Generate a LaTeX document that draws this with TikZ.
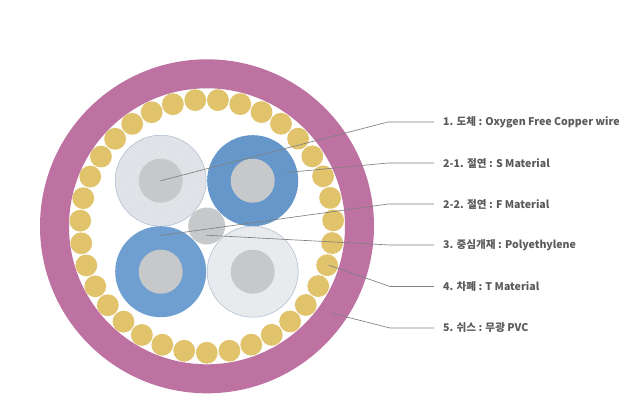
\documentclass[tikz,border=0pt]{standalone}
\usepackage{fontspec}
\usetikzlibrary{calc}
\setmainfont{Noto Sans CJK KR}
\definecolor{sheath}{HTML}{BD72A2}
\definecolor{yarn}{HTML}{E0C36A}
\definecolor{blueins}{HTML}{6F9FD1}
\definecolor{bluehatch}{HTML}{5B8DC3}
\definecolor{core}{HTML}{C6C8CA}
\definecolor{pale}{HTML}{E9EAEE}
\definecolor{palehatch}{HTML}{D6D9DE}
\definecolor{edgeline}{HTML}{A9BBD0}
\definecolor{leader}{HTML}{808080}
\definecolor{labeltext}{HTML}{5A5A5A}
\tikzset{
  leaderline/.style={draw=leader,line width=0.65pt},
  lbl/.style={anchor=west,inner sep=0pt,text=labeltext,font=\bfseries\fontsize{10.6}{12}\selectfont},
  yarnball/.style={fill=yarn,draw=none},
  corefill/.style={fill=core,draw=none},
}
\begin{document}
\begin{tikzpicture}[x=1pt,y=-1pt]
\useasboundingbox (0,0) rectangle (640,400);
\fill[white] (0,0) rectangle (640,400);
\coordinate (C) at (207,226.3);
% sheath
\fill[sheath,even odd rule] (C) circle[radius=167] (C) circle[radius=138];
% yarn
\foreach \k in {0,...,34}{
  \fill[yarnball] ({206.7+126.6*cos(95.2+\k*360/35)},{226.2-126.6*sin(95.2+\k*360/35)}) circle[radius=10.9];
}
% insulated cores
\coordinate (TL) at (160.7,180.7);
\coordinate (TR) at (252.7,180.7);
\coordinate (BL) at (160.7,271.7);
\coordinate (BR) at (252.7,271.7);
\coordinate (MID) at (206.7,226);
\begin{scope}
  \fill[pale] (TL) circle[radius=45.5];
  \clip (TL) circle[radius=45.5];
  \foreach \d in {-100,-97,...,100}{
    \draw[palehatch,line width=0.7pt] ($(TL)+(\d-60,60)$) -- ($(TL)+(\d+60,-60)$);
  }
\end{scope}
\draw[edgeline,line width=0.5pt] (TL) circle[radius=45.5];
\begin{scope}
  \fill[blueins] (TR) circle[radius=45.5];
  \clip (TR) circle[radius=45.5];
  \foreach \d in {-100,-97,...,100}{
    \draw[bluehatch,line width=0.7pt] ($(TR)+(\d-60,60)$) -- ($(TR)+(\d+60,-60)$);
  }
\end{scope}
\fill[blueins] (BL) circle[radius=45.5];
\fill[pale] (BR) circle[radius=45.5];
\draw[edgeline,line width=0.5pt] (BR) circle[radius=45.5];
\foreach \p in {TL,TR,BL,BR}{ \fill[corefill] (\p) circle[radius=22]; }
\fill[corefill] (MID) circle[radius=18.5];
% labels
\node[lbl] (l1) at (443,122) {1. 도체 : Oxygen Free Copper wire};
\node[lbl] (l2) at (443,163) {2-1. 절연 : S Material};
\node[lbl] (l3) at (443,204) {2-2. 절연 : F Material};
\node[lbl] (l4) at (443,245) {3. 중심개재 : Polyethylene};
\node[lbl] (l5) at (443,286.5) {4. 차폐 : T Material};
\node[lbl] (l6) at (443,328) {5. 쉬스 : 무광 PVC};
% leader ends
\coordinate (a1) at (160.7,180.7);
\coordinate (a2) at (287,172.5);
\coordinate (a3) at (160.7,235.5);
\coordinate (a4) at (206.5,235.2);
\coordinate (a5) at (328.5,265);
\coordinate (a6) at (331,313);
\coordinate (b1) at (434,122);
\coordinate (b2) at (434,163);
\coordinate (b3) at (434,204);
\coordinate (b4) at (434,245);
\coordinate (b5) at (434,286.5);
\coordinate (b6) at (434,328);
\draw[leaderline] (a1) -- (388,122) -- (b1);
\draw[leaderline] (a2) -- (388,163) -- (b2);
\draw[leaderline] (a3) -- (388,204) -- (b3);
\draw[leaderline] (a4) -- (390,245) -- (b4);
\draw[leaderline] (a5) -- (390,286.5) -- (b5);
\draw[leaderline] (a6) -- (390,328) -- (b6);
\end{tikzpicture}
\end{document}
